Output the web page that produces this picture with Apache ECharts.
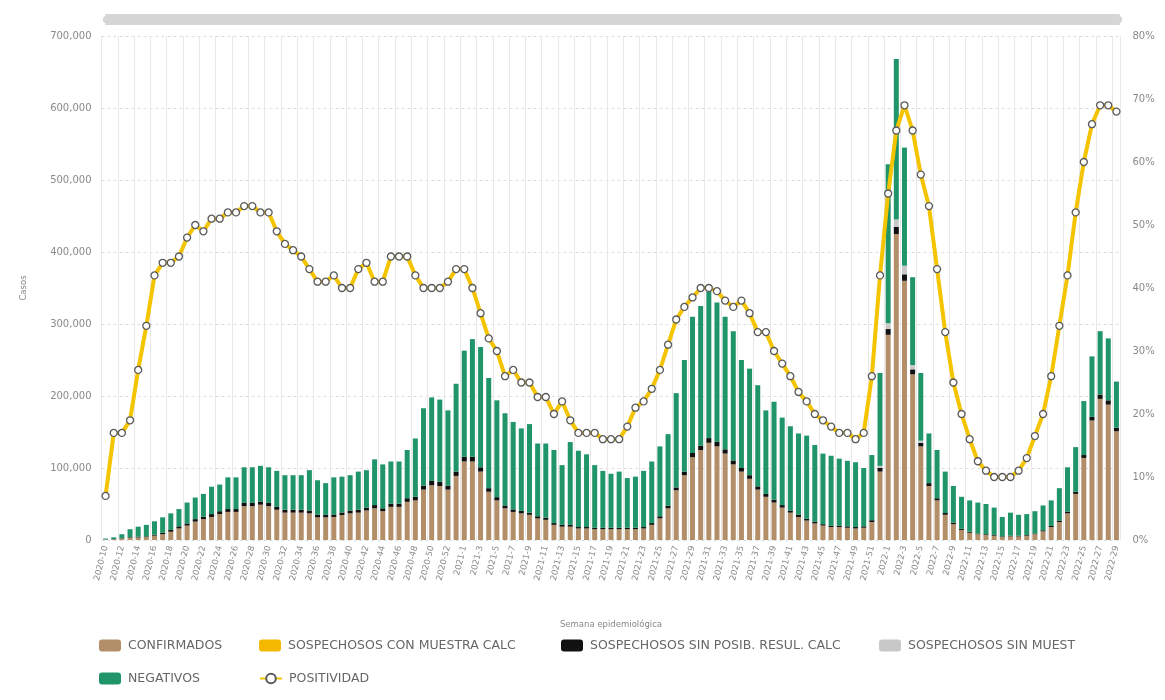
<!DOCTYPE html>
<html>
<head>
<meta charset="utf-8">
<title>Casos por semana epidemiológica</title>
<script src="https://cdn.jsdelivr.net/npm/echarts@6/dist/echarts.min.js"></script>
<style>
  html, body { margin: 0; padding: 0; background: #fff; }
  #chart { width: 1165px; height: 700px; }
</style>
</head>
<body>
<div id="chart"></div>
<script>
// --- semanas epidemiológicas ---
const weeks = [
  '2020-10','2020-11','2020-12','2020-13','2020-14','2020-15','2020-16','2020-17','2020-18','2020-19',
  '2020-20','2020-21','2020-22','2020-23','2020-24','2020-25','2020-26','2020-27','2020-28','2020-29',
  '2020-30','2020-31','2020-32','2020-33','2020-34','2020-35','2020-36','2020-37','2020-38','2020-39',
  '2020-40','2020-41','2020-42','2020-43','2020-44','2020-45','2020-46','2020-47','2020-48','2020-49',
  '2020-50','2020-51','2020-52','2020-53',
  '2021-1','2021-2','2021-3','2021-4','2021-5','2021-6','2021-7','2021-8','2021-9','2021-10',
  '2021-11','2021-12','2021-13','2021-14','2021-15','2021-16','2021-17','2021-18','2021-19','2021-20',
  '2021-21','2021-22','2021-23','2021-24','2021-25','2021-26','2021-27','2021-28','2021-29','2021-30',
  '2021-31','2021-32','2021-33','2021-34','2021-35','2021-36','2021-37','2021-38','2021-39','2021-40',
  '2021-41','2021-42','2021-43','2021-44','2021-45','2021-46','2021-47','2021-48','2021-49','2021-50',
  '2021-51','2021-52',
  '2022-1','2022-2','2022-3','2022-4','2022-5','2022-6','2022-7','2022-8','2022-9','2022-10',
  '2022-11','2022-12','2022-13','2022-14','2022-15','2022-16','2022-17','2022-18','2022-19','2022-20',
  '2022-21','2022-22','2022-23','2022-24','2022-25','2022-26','2022-27','2022-28','2022-29'
]

// --- series (casos) ---
const confirmados = [
  500, 1000, 2000, 3000, 3500, 4000, 6000, 8000, 11500, 16000,
  20000, 25500, 29000, 32000, 36000, 39000, 39000, 47000, 47000, 49000,
  47000, 42000, 38000, 38000, 38000, 37000, 31500, 31500, 32000, 34700,
  37000, 38000, 41000, 44000, 40000, 46000, 46000, 53000, 55000, 70000,
  76000, 75000, 70000, 89000,
  109000, 109000, 95000, 67000, 55000, 44000, 39000, 37000, 35000, 30000,
  28000, 21000, 18500, 18500, 16000, 16000, 15000, 15000, 15000, 15000,
  15000, 15000, 16000, 21000, 30000, 44000, 69000, 90000, 115000, 125000,
  135000, 130000, 120000, 105000, 95000, 85000, 70000, 60000, 52000, 45000,
  38000, 32000, 27000, 23000, 20000, 18000, 18000, 17000, 16000, 17000,
  25000, 95000,
  285000, 425000, 360000, 230000, 130000, 75000, 55000, 35000, 22000, 14000,
  10000, 8000, 7000, 6000, 4000, 5000, 5000, 6000, 8000, 12000,
  18000, 25000, 37000, 64000, 114000, 166000, 196000, 188000, 151000
]

const conMuestra = [
  0, 0, 0, 0, 0, 0, 0, 0, 0, 0,
  0, 0, 0, 0, 0, 0, 0, 0, 0, 0,
  0, 0, 0, 0, 0, 0, 0, 0, 0, 0,
  0, 0, 0, 0, 0, 0, 0, 0, 0, 0,
  0, 0, 0, 0,
  0, 0, 0, 0, 0, 0, 0, 0, 0, 0,
  0, 0, 0, 0, 0, 0, 0, 0, 0, 0,
  0, 0, 0, 0, 0, 0, 0, 0, 0, 0,
  0, 0, 0, 0, 0, 0, 0, 0, 0, 0,
  0, 0, 0, 0, 0, 0, 0, 0, 0, 0,
  0, 0,
  0, 0, 0, 0, 0, 0, 0, 0, 0, 0,
  0, 0, 0, 0, 0, 0, 0, 0, 0, 0,
  0, 0, 0, 0, 0, 0, 0, 0, 0
]

const sinPosibResul = [
  200, 300, 500, 800, 1000, 1000, 1500, 2000, 2500, 3000,
  3000, 3500, 3500, 4000, 4000, 4000, 4000, 4500, 4500, 4500,
  4500, 4000, 4000, 4000, 4000, 4000, 3500, 3500, 3500, 3500,
  4000, 4000, 4000, 4500, 4000, 4500, 4500, 5000, 5000, 5500,
  6000, 6000, 5500, 6000,
  6500, 6500, 6000, 5000, 4500, 4000, 3500, 3500, 3000, 3000,
  3000, 2500, 2500, 2500, 2000, 2000, 2000, 2000, 2000, 2000,
  2000, 2000, 2000, 2500, 3000, 3500, 4000, 5000, 6000, 6000,
  6500, 6500, 6000, 5500, 5000, 5000, 4500, 4000, 4000, 3500,
  3000, 3000, 2500, 2500, 2000, 2000, 2000, 2000, 2000, 2000,
  2500, 5000,
  8000, 10000, 9000, 7000, 5000, 4000, 3000, 2500, 2000, 1500,
  1500, 1000, 1000, 1000, 1000, 1000, 1000, 1000, 1000, 1500,
  1500, 2000, 2500, 3000, 4000, 5000, 6000, 6000, 5000
]

const sinMuestra = [
  0, 0, 0, 0, 0, 0, 0, 0, 0, 0,
  0, 0, 0, 0, 0, 0, 0, 0, 0, 0,
  0, 0, 0, 0, 0, 0, 0, 0, 0, 0,
  0, 0, 0, 0, 0, 0, 0, 0, 0, 0,
  0, 0, 0, 0,
  0, 0, 0, 0, 0, 0, 0, 0, 0, 0,
  0, 0, 0, 0, 0, 0, 0, 0, 0, 0,
  0, 0, 0, 0, 0, 0, 0, 0, 0, 0,
  0, 0, 0, 0, 0, 0, 0, 0, 0, 0,
  0, 0, 0, 0, 0, 0, 0, 0, 0, 0,
  0, 3000,
  8000, 10000, 12000, 6000, 3000, 0, 0, 0, 0, 0,
  0, 0, 0, 0, 0, 0, 0, 0, 0, 0,
  0, 0, 0, 0, 0, 0, 0, 0, 0
]

const negativos = [
  1300, 2400, 5500, 11200, 14000, 16000, 18500, 21500, 23000, 24000,
  29000, 30000, 31500, 38000, 37000, 44000, 44000, 49500, 49500, 49500,
  49500, 50000, 48000, 48000, 48000, 56000, 48000, 44000, 51500, 49800,
  49000, 53000, 52000, 63500, 61000, 58500, 58500, 67000, 81000, 107500,
  116000, 114000, 104500, 122000,
  147500, 163500, 167000, 153000, 134500, 128000, 121500, 114500, 123000, 101000,
  103000, 101500, 83000, 115000, 106000, 101000, 87000, 79000, 75000, 78000,
  69000, 71000, 78000, 85500, 97000, 99500, 131000, 155000, 189000, 194000,
  203500, 193500, 184000, 179500, 150000, 148000, 140500, 116000, 136000, 121500,
  117000, 113000, 115500, 106500, 98000, 97000, 93000, 91000, 90000, 81000,
  90500, 129000,
  221000, 223000, 164000, 122000, 94000, 69000, 67000, 57500, 51000, 44500,
  43500, 43000, 42000, 38000, 27000, 32000, 29000, 29000, 31000, 34500,
  35500, 45000, 61500, 62000, 75000, 84000, 88000, 86000, 64000
]

// --- positividad (%) ---
const positividad = [
  7, 17, 17, 19, 27, 34, 42, 44, 44, 45,
  48, 50, 49, 51, 51, 52, 52, 53, 53, 52,
  52, 49, 47, 46, 45, 43, 41, 41, 42, 40,
  40, 43, 44, 41, 41, 45, 45, 45, 42, 40,
  40, 40, 41, 43,
  43, 40, 36, 32, 30, 26, 27, 25, 25, 22.7,
  22.7, 20, 22, 19, 17, 17, 17, 16, 16, 16,
  18, 21, 22, 24, 27, 31, 35, 37, 38.5, 40,
  40, 39.5, 38, 37, 38, 36, 33, 33, 30, 28,
  26, 23.5, 22, 20, 19, 18, 17, 17, 16, 17,
  26, 42,
  55, 65, 69, 65, 58, 53, 43, 33, 25, 20,
  16, 12.5, 11, 10, 10, 10, 11, 13, 16.5, 20,
  26, 34, 42, 52, 60, 66, 69, 69, 68
]

// --- ticks ---
const casosTicks = { min: 0, max: 700000, interval: 100000 }
const pctTicks = { min: 0, max: 80, interval: 10 }

// --- colores ---
const COLORS = {
  confirmados: '#b38f69',
  conMuestra: '#f5b800',
  sinPosib: '#111111',
  sinMuestra: '#c8c8c8',
  negativos: '#209569',
  positividad: '#f5c400'
}

const FONT = 'DejaVu Sans'
const chart = echarts.init(document.getElementById('chart'))

const barSeries = (name, data, color) => ({
  name,
  type: 'bar',
  stack: 'casos',
  data,
  barWidth: 5,
  itemStyle: { color },
  emphasis: { disabled: true }
})

// una leyenda por elemento, para colocarlas en columnas como el original
const legendItem = (name, left, top, icon) => ({
  data: [name],
  left,
  top,
  itemWidth: 22,
  itemHeight: 12,
  icon,
  selectedMode: false,
  textStyle: { color: '#666', fontFamily: FONT, fontSize: 12.5, padding: [0, 0, 0, 2] }
})

const option = {
  backgroundColor: '#fff',
  animation: false,
  legend: [
    legendItem('CONFIRMADOS', 94, 634, 'roundRect'),
    legendItem('SOSPECHOSOS CON MUESTRA CALC', 254, 634, 'roundRect'),
    legendItem('SOSPECHOSOS SIN POSIB. RESUL. CALC', 556, 634, 'roundRect'),
    legendItem('SOSPECHOSOS SIN MUEST', 874, 634, 'roundRect'),
    legendItem('NEGATIVOS', 94, 667, 'roundRect'),
    legendItem('POSITIVIDAD', 254, 667)
  ],
  grid: {
    left: 101.5,
    right: 44.5,
    top: 36,
    bottom: 160,
    containLabel: false,
    outerBoundsMode: 'none'
  },
  dataZoom: [{
    type: 'slider',
    xAxisIndex: 0,
    start: 0,
    end: 100,
    left: 104,
    right: 47,
    top: 14,
    height: 11,
    showDetail: false,
    showDataShadow: false,
    brushSelect: false,
    zoomLock: true,
    moveHandleSize: 0,
    borderColor: 'transparent',
    borderRadius: 6,
    backgroundColor: '#d6d6d6',
    fillerColor: '#d6d6d6',
    handleIcon: 'circle',
    handleSize: '60%',
    handleStyle: { color: '#d6d6d6', borderColor: '#d6d6d6' }
  }],
  xAxis: {
    type: 'category',
    data: weeks,
    name: 'Semana epidemiológica',
    nameLocation: 'middle',
    nameGap: 80,
    nameTextStyle: { color: '#888', fontFamily: FONT, fontSize: 8.5 },
    axisLine: { show: false },
    axisTick: { show: false },
    axisLabel: {
      interval: 1,
      rotate: 76,
      margin: 6,
      color: '#8a8a8a',
      fontFamily: FONT,
      fontSize: 8.5
    },
    splitLine: {
      show: true,
      interval: 1,
      lineStyle: { color: '#e8e8e8', width: 1 }
    }
  },
  yAxis: [
    {
      type: 'value',
      ...casosTicks,
      name: 'Casos',
      nameLocation: 'middle',
      nameGap: 73,
      nameRotate: 90,
      nameTextStyle: { color: '#888', fontFamily: FONT, fontSize: 8.5 },
      axisLine: { show: false },
      axisTick: { show: false },
      axisLabel: {
        margin: 10,
        color: '#8a8a8a',
        fontFamily: FONT,
        fontSize: 10,
        formatter: v => v.toLocaleString('en-US')
      },
      splitLine: { lineStyle: { color: '#dedede', type: [3, 3] } }
    },
    {
      type: 'value',
      ...pctTicks,
      position: 'right',
      axisLine: { show: false },
      axisTick: { show: false },
      axisLabel: {
        margin: 12,
        color: '#8a8a8a',
        fontFamily: FONT,
        fontSize: 10,
        formatter: '{value}%'
      },
      splitLine: { show: false }
    }
  ],
  series: [
    barSeries('CONFIRMADOS', confirmados, COLORS.confirmados),
    barSeries('SOSPECHOSOS CON MUESTRA CALC', conMuestra, COLORS.conMuestra),
    barSeries('SOSPECHOSOS SIN POSIB. RESUL. CALC', sinPosibResul, COLORS.sinPosib),
    barSeries('SOSPECHOSOS SIN MUEST', sinMuestra, COLORS.sinMuestra),
    barSeries('NEGATIVOS', negativos, COLORS.negativos),
    {
      name: 'POSITIVIDAD',
      type: 'line',
      yAxisIndex: 1,
      data: positividad,
      z: 5,
      symbol: 'circle',
      symbolSize: 7,
      showAllSymbol: true,
      lineStyle: { color: COLORS.positividad, width: 4 },
      itemStyle: { color: '#ffffff', borderColor: '#5a5a5a', borderWidth: 1.3 },
      emphasis: { disabled: true }
    }
  ]
}

chart.setOption(option)
</script>
</body>
</html>
